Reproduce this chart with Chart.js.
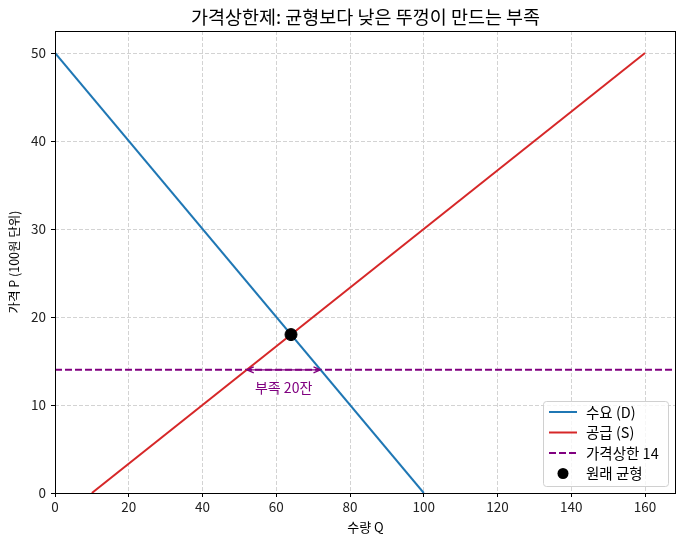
<!DOCTYPE html>
<html>
<head>
<meta charset="utf-8">
<script src="https://cdn.jsdelivr.net/npm/chart.js@4/dist/chart.umd.min.js"></script>
<style>
    html, body { margin: 0; padding: 0; background: #ffffff; }
    #wrap { width: 684px; height: 544px; }
</style>
</head>
<body>
<div id="wrap"><canvas id="myChart"></canvas></div>
<script>
"use strict";

// data
const demandQ = [0, 100];
const demandP = [50, 0];
const supplyQ = [10, 160];
const supplyP = [0, 50];
const ceilingPrice = 14;
const equilibrium = [64, 18];
const shortageQ = [52, 72];
const shortageLabel = "부족 20잔";
const xTicks = [0, 20, 40, 60, 80, 100, 120, 140, 160];
const yTicks = [0, 10, 20, 30, 40, 50];
const legendLabels = ["수요 (D)", "공급 (S)", "가격상한 14", "원래 균형"];

const FONT = "'Noto Sans CJK KR', 'Noto Sans', sans-serif";
const X_MAX = 168.4;
const Y_MAX = 52.5;

const toPoints = (xs, ys) => xs.map((x, i) => ({ x: x, y: ys[i] }));

// title, frame, shortage arrow and legend box
const extras = {
    id: "extras",
    afterDraw(chart) {
        const ctx = chart.ctx;
        const area = chart.chartArea;
        const xs = chart.scales.x;
        const ys = chart.scales.y;

        // shortage arrow
        const y = ys.getPixelForValue(ceilingPrice);
        const x1 = xs.getPixelForValue(shortageQ[0]);
        const x2 = xs.getPixelForValue(shortageQ[1]);
        ctx.save();
        ctx.strokeStyle = "#800080";
        ctx.fillStyle = "#800080";
        ctx.lineWidth = 1.3;
        ctx.beginPath();
        ctx.moveTo(x1 + 2, y);
        ctx.lineTo(x2 - 2, y);
        ctx.stroke();
        [[x1, 1], [x2, -1]].forEach(([hx, d]) => {
            ctx.beginPath();
            ctx.moveTo(hx + d * 7, y - 3);
            ctx.lineTo(hx, y);
            ctx.lineTo(hx + d * 7, y + 3);
            ctx.stroke();
        });
        ctx.font = "14px " + FONT;
        ctx.textAlign = "center";
        ctx.textBaseline = "middle";
        ctx.fillText(shortageLabel, xs.getPixelForValue((shortageQ[0] + shortageQ[1]) / 2), ys.getPixelForValue(12));
        ctx.restore();

        // frame
        ctx.save();
        ctx.strokeStyle = "#000000";
        ctx.lineWidth = 1;
        ctx.strokeRect(area.left + 0.5, area.top + 0.5, area.right - area.left - 1, area.bottom - area.top);
        ctx.restore();

        // title
        ctx.save();
        ctx.fillStyle = "#000000";
        ctx.font = "18.5px " + FONT;
        ctx.textAlign = "center";
        ctx.textBaseline = "middle";
        ctx.fillText("가격상한제: 균형보다 낮은 뚜껑이 만드는 부족", (area.left + area.right) / 2, 17);
        ctx.restore();

        // legend
        const lx = 543, ly = 401, lw = 125, lh = 85;
        ctx.save();
        ctx.fillStyle = "rgba(255,255,255,0.8)";
        ctx.strokeStyle = "#d0d0d0";
        ctx.lineWidth = 1;
        ctx.beginPath();
        ctx.roundRect(lx + 0.5, ly + 0.5, lw, lh, 3);
        ctx.fill();
        ctx.stroke();
        ctx.font = "14.5px " + FONT;
        ctx.textBaseline = "middle";
        const styles = chart.data.datasets;
        legendLabels.forEach((label, i) => {
            const rowY = ly + 11 + i * 20.5;
            const ds = styles[i];
            if (i < 3) {
                ctx.strokeStyle = ds.borderColor;
                ctx.lineWidth = 2;
                ctx.setLineDash(ds.borderDash || []);
                ctx.beginPath();
                ctx.moveTo(lx + 6, rowY);
                ctx.lineTo(lx + 34, rowY);
                ctx.stroke();
                ctx.setLineDash([]);
            } else {
                ctx.fillStyle = "#000000";
                ctx.beginPath();
                ctx.arc(lx + 20, rowY, 5.5, 0, Math.PI * 2);
                ctx.fill();
            }
            ctx.fillStyle = "#000000";
            ctx.fillText(label, lx + 43, rowY);
        });
        ctx.restore();
    },
};

const renderChart = () => {
    const ctx = document.getElementById("myChart").getContext("2d");
    const keepTicks = (list) => (scale) => {
        scale.ticks = list.map((v) => ({ value: v }));
    };

    new Chart(ctx, {
        type: "line",
        data: {
            datasets: [
                {
                    label: legendLabels[0],
                    data: toPoints(demandQ, demandP),
                    borderColor: "#1f77b4",
                    borderWidth: 2,
                    pointRadius: 0,
                    order: 2,
                },
                {
                    label: legendLabels[1],
                    data: toPoints(supplyQ, supplyP),
                    borderColor: "#d62728",
                    borderWidth: 2,
                    pointRadius: 0,
                    order: 2,
                },
                {
                    label: legendLabels[2],
                    data: toPoints([0, X_MAX], [ceilingPrice, ceilingPrice]),
                    borderColor: "#800080",
                    borderWidth: 2,
                    borderDash: [7, 3],
                    pointRadius: 0,
                    order: 2,
                },
                {
                    label: legendLabels[3],
                    type: "scatter",
                    data: [{ x: equilibrium[0], y: equilibrium[1] }],
                    backgroundColor: "#000000",
                    borderColor: "#000000",
                    pointRadius: 6,
                    order: 0,
                },
            ],
        },
        options: {
            responsive: true,
            maintainAspectRatio: false,
            animation: false,
            layout: {
                padding: { top: 31, right: 8, left: 0, bottom: 8 },
            },
            plugins: {
                legend: { display: false },
                tooltip: { enabled: false },
            },
            scales: {
                x: {
                    type: "linear",
                    min: 0,
                    max: X_MAX,
                    afterBuildTicks: keepTicks(xTicks),
                    afterFit: (scale) => { scale.height = 43; },
                    grid: {
                        color: "#d3d3d3",
                        tickColor: "#000000",
                        tickLength: 4,
                    },
                    border: { display: false, dash: [4, 2] },
                    ticks: {
                        color: "#222222",
                        padding: 2,
                        maxRotation: 0,
                        font: { family: FONT, size: 13.5 },
                    },
                    title: {
                        display: true,
                        text: "수량 Q",
                        color: "#000000",
                        padding: { top: 2, bottom: 1 },
                        font: { family: FONT, size: 13 },
                    },
                },
                y: {
                    type: "linear",
                    min: 0,
                    max: Y_MAX,
                    afterBuildTicks: keepTicks(yTicks),
                    afterFit: (scale) => { scale.width = 55; },
                    grid: {
                        color: "#d3d3d3",
                        tickColor: "#000000",
                        tickLength: 4,
                    },
                    border: { display: false, dash: [4, 2] },
                    ticks: {
                        color: "#222222",
                        padding: 5,
                        font: { family: FONT, size: 13.5 },
                    },
                    title: {
                        display: true,
                        text: "가격 P (100원 단위)",
                        color: "#000000",
                        padding: { top: 7 },
                        font: { family: FONT, size: 12.5 },
                    },
                },
            },
        },
        plugins: [extras],
    });
};

window.onload = () => {
    renderChart();
};
</script>
</body>
</html>
